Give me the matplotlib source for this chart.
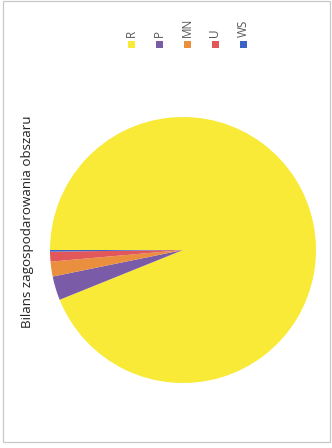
import matplotlib
matplotlib.use("Agg")
import matplotlib.pyplot as plt
from matplotlib.patches import Rectangle

categories = ["R", "P", "MN", "U", "WS"]
values = [93.9, 2.9, 1.8, 1.2, 0.2]
colors = ["#F8EA36", "#7A5BA8", "#E98F3E", "#E2585A", "#3B63C6"]
title = "Bilans zagospodarowania obszaru"

W, H = 332, 448
fig = plt.figure(figsize=(W / 100, H / 100), dpi=100)
fig.patch.set_facecolor("white")

# chart border
fig.patches.append(Rectangle((3 / W, 1 - 442 / H), 327 / W, 441 / H,
                             transform=fig.transFigure, fill=False,
                             edgecolor="#C9C9C9", lw=0.9))

# pie (chart rotated 90 degrees counter-clockwise)
cx, cy, r = 183, 250, 133
ax = fig.add_axes([(cx - r) / W, 1 - (cy + r) / H, 2 * r / W, 2 * r / H])
ax.pie(values, colors=colors, startangle=180, counterclock=False,
       wedgeprops=dict(linewidth=0))
ax.set_xlim(-1, 1)
ax.set_ylim(-1, 1)
ax.set_aspect("equal")
ax.axis("off")

# title (rotated)
fig.text(28 / W, 1 - 222 / H, title, rotation=90, ha="center", va="center",
         fontsize=9.6, color="#222222", family=["Open Sans", "DejaVu Sans"])

# legend (rotated)
x0, dx, my, ms = 131, 28, 45, 7
for i, (cat, col) in enumerate(zip(categories, colors)):
    x = x0 + dx * i
    fig.patches.append(Rectangle(((x - ms / 2) / W, 1 - (my + ms / 2) / H),
                                 ms / W, ms / H, transform=fig.transFigure,
                                 facecolor=col, edgecolor="none"))
    fig.text(x / W, 1 - 37 / H, cat, rotation=90, ha="center", va="bottom",
             fontsize=8.5, color="#555555", family=["Open Sans", "DejaVu Sans"])

fig.savefig("out.png", dpi=100)
